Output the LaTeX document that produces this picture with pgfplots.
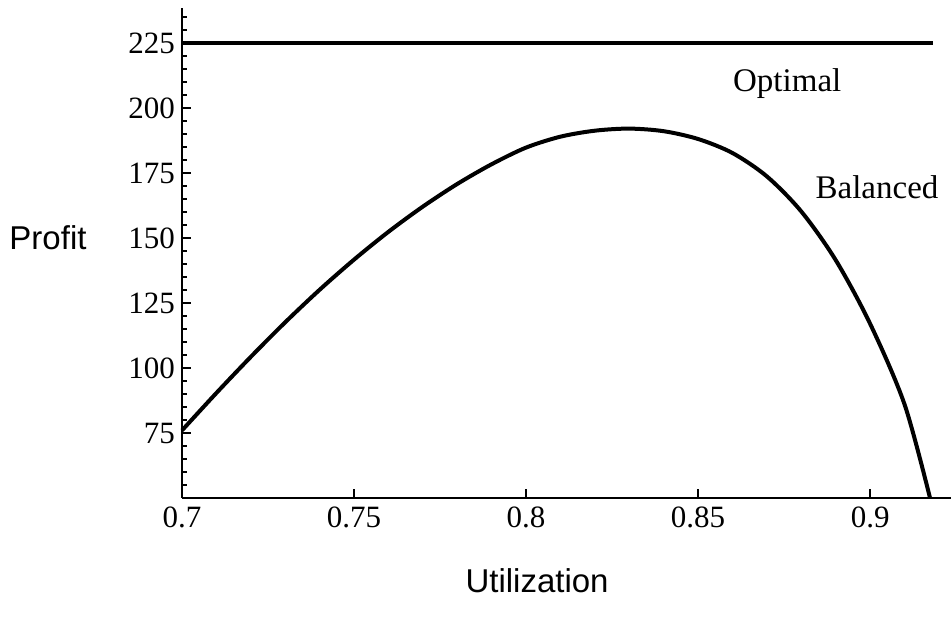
\documentclass[border=0pt]{standalone}
\usepackage{pgfplots}
\pgfplotsset{compat=1.18}
\usepackage{fontspec}
\setmainfont{Liberation Serif}
\setsansfont{Liberation Sans}
\begin{document}
\begin{tikzpicture}
\begin{axis}[
  name=ax,
  scale only axis,
  width=384.5pt, height=245pt,
  xmin=0.7, xmax=0.9235,
  ymin=50, ymax=238.5,
  axis lines=left,
  axis line style={-, line width=1.2pt},
  clip=false,
  tick align=inside,
  xtick={0.7,0.75,0.8,0.85,0.9},
  xticklabels={0.7,0.75,0.8,0.85,0.9},
  ytick={75,100,125,150,175,200,225},
  minor ytick={55,60,...,235},
  major tick length=4.5pt,
  minor tick length=2.5pt,
  every tick/.style={black, line width=0.9pt},
  /pgf/number format/assume math mode=true,
  tick label style={font=\fontsize{15.5}{18}\selectfont},
  xticklabel style={yshift=-1pt},
]
\addplot[black, line width=2pt, smooth, tension=0.5] coordinates {
(0.70,76.0) (0.71,90.4) (0.72,104.3) (0.73,117.6) (0.74,130.1)
(0.75,141.7) (0.76,152.4) (0.77,162.1) (0.78,170.8) (0.79,178.4)
(0.80,184.8) (0.81,189.0) (0.82,191.3) (0.83,192.1) (0.84,191.1)
(0.85,188.1) (0.86,182.7) (0.87,173.7) (0.88,160.2) (0.89,141.5)
(0.90,117.0) (0.91,86.0) (0.9174,50.0)
};
\addplot[black, line width=2pt] coordinates {(0.7,225) (0.9183,225)};
\node[font=\fontsize{16.5}{20}\selectfont, anchor=base] at (axis cs:0.8759,206.2) {Optimal};
\node[font=\fontsize{16.5}{20}\selectfont, anchor=base] at (axis cs:0.902,165.4) {Balanced};
\node[font=\sffamily\fontsize{16.5}{20}\selectfont, xshift=-67pt] at (axis cs:0.7,150) {Profit};
\node[font=\sffamily\fontsize{16.5}{20}\selectfont, yshift=-41.5pt] at (axis cs:0.8032,50) {Utilization};
\end{axis}
\pgfresetboundingbox
\path ([xshift=-91pt,yshift=-63pt]ax.south west) rectangle ([yshift=4pt]ax.north east);
\end{tikzpicture}
\end{document}
